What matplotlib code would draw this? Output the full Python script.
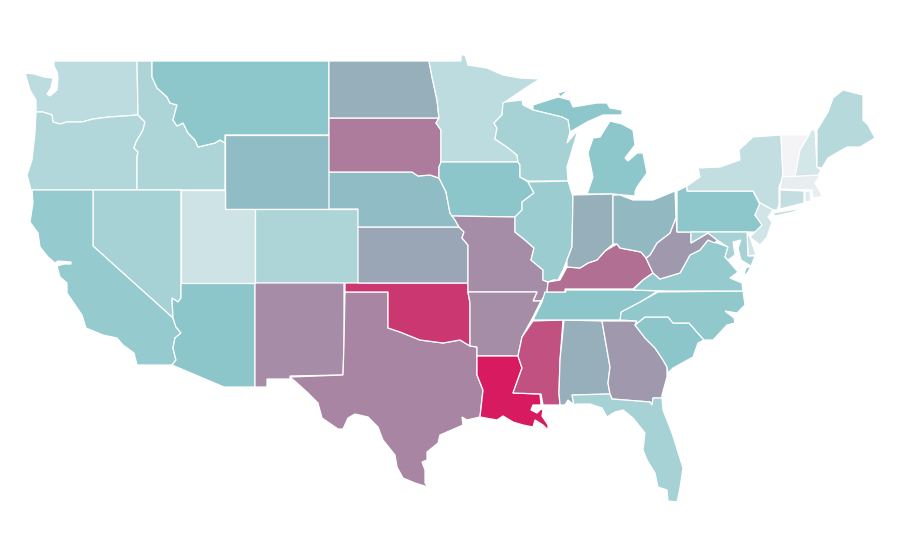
#!/usr/bin/env python3
"""US states choropleth, outlines read off the picture in pixel units"""
import matplotlib; matplotlib.use('Agg')
import matplotlib.pyplot as plt
from matplotlib.colors import LinearSegmentedColormap

# state outlines (x, y down), a state can have several parts
WA=[[(54,61),(137,61),(138,115),(109,117),(93,119),(82,122),(67,122),(60,124),(53,122),(52,115),(43,112),(36,112),(36,100),(30,90),(25,73),(34,74),(44,77),(53,78),(51,88),(47,94),(50,96),(57,90),(58,78),(57,72),(54,66)]]
OR=[[(36,112),(43,112),(52,115),(53,122),(60,124),(67,122),(82,122),(93,119),(109,117),(138,115),(145,122),(143,130),(136,142),(134,148),(138,152),(137,157),(137,190),(31,190),(27,175),(32,160),(35,133)]]
ID=[[(137,61),(152,61),(152,77),(157,88),(167,97),(170,103),(177,105),(173,120),(177,126),(183,123),(188,133),(195,140),(198,147),(215,143),(220,140),(225,143),(225,190),(137,190),(137,157),(138,152),(134,148),(136,142),(143,130),(145,122),(138,115)]]
MT=[[(152,61),(329,61),(329,135),(225,135),(225,143),(220,140),(215,143),(198,147),(195,140),(188,133),(183,123),(177,126),(173,120),(177,105),(170,103),(167,97),(157,88),(152,77)]]
WY=[[(225,135),(329,135),(329,209),(225,209)]]
NV=[[(93,190),(181,190),(181,298),(178,302),(172,298),(173,318),(93,246)]]
CA=[[(32,190),(93,190),(93,246),(173,318),(176,327),(181,333),(175,338),(173,348),(176,360),(172,365),(137,365),(134,353),(123,345),(117,338),(103,335),(86,328),(82,315),(67,293),(67,283),(60,277),(57,266),(64,264),(71,264),(71,262),(58,261),(55,263),(48,257),(40,247),(38,233),(30,222),(33,203)]]
AZ=[[(181,283),(255,283),(255,387),(224,387),(172,365),(176,360),(173,348),(175,338),(181,333),(176,327),(173,318),(172,298),(178,302),(181,298)]]
UT=[[(181,190),(225,190),(225,209),(255,209),(255,283),(181,283)]]
CO=[[(255,209),(358,209),(358,283),(255,283)]]
NM=[[(255,283),(344,283),(344,343),(343,375),(290,376),(290,379),(267,379),(267,387),(255,387)]]
TX=[[(345,292),(388,292),(388,328),(400,332),(420,340),(443,343),(460,340),(470,346),(477,347),(477,375),(483,390),(480,417),(467,420),(462,417),(463,425),(440,435),(438,443),(427,452),(427,460),(422,462),(425,470),(425,483),(428,487),(415,483),(403,478),(397,467),(395,455),(383,440),(378,427),(368,417),(355,414),(348,418),(343,429),(338,429),(322,418),(318,403),(308,393),(297,383),(290,377),(343,375),(344,343)]]
OK_=[[(345,283),(468,283),(468,292),(470,303),(470,346),(460,340),(443,343),(420,340),(400,332),(388,328),(388,292),(345,292)]]
KS=[[(358,227),(459,227),(464,232),(462,238),(468,245),(468,283),(358,283)]]
NE=[[(329,172),(412,172),(418,176),(430,175),(439,178),(446,192),(450,213),(455,220),(459,227),(358,227),(358,209),(329,209)]]
SD=[[(329,118),(439,118),(436,123),(441,130),(441,163),(439,167),(439,178),(430,175),(418,176),(412,172),(329,172)]]
ND=[[(329,61),(429,61),(432,77),(437,100),(439,118),(329,118)]]
MN=[[(429,61),(461,61),(461,55),(465,55),(468,65),(487,68),(503,75),(520,78),(540,79),(527,87),(505,102),(503,105),(502,115),(494,123),(497,128),(495,139),(507,147),(517,155),(518,162),(441,162),(441,130),(436,123),(439,118),(437,100),(432,77)]]
IA=[[(441,162),(518,162),(520,165),(520,177),(528,182),(534,193),(522,202),(522,210),(515,217),(452,216),(450,213),(446,192),(439,178),(439,167)]]
MO=[[(452,216),(515,217),(515,223),(515,232),(525,240),(534,248),(531,260),(543,270),(543,280),(548,282),(547,292),(541,301),(533,301),(537,292),(468,292),(468,245),(462,238),(464,232),(459,227),(455,220)]]
AR=[[(468,292),(537,292),(533,301),(541,301),(533,317),(522,337),(518,356),(477,356),(477,347),(470,346),(470,303)]]
LA=[[(477,356),(518,356),(522,368),(513,393),(540,394),(541,405),(533,405),(531,410),(537,413),(541,409),(543,410),(542,416),(548,425),(548,430),(543,425),(535,420),(533,427),(523,425),(513,422),(503,416),(497,420),(480,417),(483,390),(477,375)]]
MS=[[(533,321),(563,320),(560,360),(559,393),(560,405),(543,405),(541,394),(513,393),(522,368),(518,356),(522,337)]]
AL=[[(564,320),(602,321),(610,367),(608,383),(610,394),(572,395),(574,405),(568,400),(565,405),(560,405),(559,393),(560,360)]]
GA=[[(602,321),(637,321),(635,325),(645,338),(655,348),(663,360),(667,367),(667,377),(662,395),(662,398),(653,398),(652,405),(650,402),(612,399),(610,394),(608,383),(610,367)]]
FL=[[(572,395),(610,394),(612,399),(650,402),(652,405),(653,398),(662,398),(663,410),(672,433),(683,468),(680,488),(677,502),(668,501),(667,490),(658,487),(655,473),(647,460),(643,450),(645,433),(633,418),(623,410),(615,412),(607,417),(602,408),(590,404),(577,404),(574,405)]]
SC=[[(635,325),(645,317),(668,317),(673,323),(689,323),(704,340),(698,343),(693,357),(673,368),(668,373),(667,367),(663,360),(655,348),(645,338)]]
NC=[[(620,320),(621,312),(640,302),(658,292),(743,291),(745,305),(737,313),(725,311),(734,318),(735,323),(727,325),(713,340),(704,340),(689,323),(673,323),(668,317),(645,317),(635,325),(637,321)]]
TN=[[(565,290),(633,290),(658,291),(640,302),(621,312),(620,320),(533,320),(542,302),(545,292),(566,292)]]
KY=[[(548,282),(547,292),(565,292),(565,289),(633,289),(643,280),(653,273),(646,258),(641,252),(620,248),(617,244),(605,251),(597,260),(588,263),(580,268),(567,267),(560,280)]]
VA=[[(633,290),(667,291),(743,291),(742,283),(730,278),(738,272),(725,257),(728,247),(717,243),(708,240),(700,250),(690,255),(680,273),(660,279),(653,273),(643,280)],
    [(751,266),(748,272),(743,277),(746,268)]]
WV=[[(676,217),(677,232),(691,232),(691,243),(708,233),(717,240),(715,243),(708,240),(700,250),(690,255),(680,273),(660,279),(653,273),(646,258),(650,255),(657,243),(670,233),(675,220)]]
PA=[[(677,191),(687,186),(687,191),(753,191),(760,205),(755,215),(763,225),(757,232),(677,232)]]
NY=[[(687,191),(687,186),(700,177),(698,168),(720,167),(740,160),(739,150),(753,137),(781,135),(783,177),(779,187),(779,205),(777,210),(773,210),(760,203),(753,191)],
    [(773,213),(802,208),(793,212),(775,216)]]
VT=[[(781,135),(809,135),(800,150),(795,177),(783,177)]]
NH=[[(811,130),(815,130),(817,167),(821,170),(817,177),(795,177),(800,150),(809,135)]]
ME=[[(817,130),(828,112),(833,98),(843,90),(863,95),(863,120),(868,125),(875,138),(860,147),(847,147),(828,158),(822,168),(817,167)]]
MA=[[(782,177),(820,175),(815,183),(822,195),(830,195),(813,198),(812,190),(780,189)]]
CT=[[(780,190),(804,191),(804,203),(780,209)]]
RI=[[(805,191),(810,191),(811,201),(805,202)]]
NJ=[[(760,203),(773,210),(768,217),(772,222),(767,237),(760,245),(750,237),(762,225),(755,215)]]
DE=[[(747,232),(750,237),(756,255),(748,256)]]
MD=[[(691,232),(747,232),(748,256),(755,256),(751,266),(741,260),(738,248),(741,240),(733,242),(735,255),(728,260),(725,257),(728,247),(717,240),(708,233),(691,243)]]
MI=[[(587,194),(593,177),(588,153),(593,138),(600,137),(610,121),(622,124),(633,130),(635,145),(625,158),(628,161),(637,153),(643,153),(647,173),(637,187),(635,192),(635,196),(613,194)],
    [(533,105),(558,97),(570,100),(573,107),(597,103),(607,103),(610,108),(622,110),(622,115),(603,115),(587,122),(570,132),(568,120),(562,117),(533,110)],
    [(558,93),(569,90),(560,97)]]
WI=[[(503,103),(505,102),(522,100),(523,105),(533,110),(562,117),(568,120),(570,132),(567,143),(578,130),(570,157),(567,167),(568,181),(528,181),(520,177),(520,165),(518,162),(517,155),(507,147),(495,139),(497,128),(494,123),(502,115)]]
IL=[[(528,182),(568,181),(573,197),(572,247),(567,260),(563,270),(558,280),(553,280),(548,282),(543,280),(543,270),(531,260),(534,248),(525,240),(515,232),(515,223),(515,217),(522,210),(522,202),(534,193)]]
IN=[[(573,195),(613,194),(613,244),(605,251),(597,260),(588,263),(580,268),(567,267),(567,260),(572,247)]]
OH=[[(613,195),(620,195),(633,200),(653,200),(675,191),(676,217),(675,220),(670,233),(657,243),(650,255),(646,258),(641,252),(620,248),(617,244),(613,244)]]

state_names=['WA','OR','ID','MT','WY','NV','CA','AZ','UT','CO','NM','TX','OK','KS','NE','SD','ND','MN','IA','MO','AR','LA','MS','AL','GA','FL','SC','NC','TN','KY','VA','WV','PA','NY','VT','NH','ME','MA','CT','RI','NJ','DE','MD','MI','WI','IL','IN','OH']
state_shapes=[WA,OR,ID,MT,WY,NV,CA,AZ,UT,CO,NM,TX,OK_,KS,NE,SD,ND,MN,IA,MO,AR,LA,MS,AL,GA,FL,SC,NC,TN,KY,VA,WV,PA,NY,VT,NH,ME,MA,CT,RI,NJ,DE,MD,MI,WI,IL,IN,OH]
state_values=[.265,.32,.34,.49,.526,.375,.46,.5,.19,.34,.67,.684,.915,.59,.526,.717,.57,.265,.5,.665,.665,1.0,.84,.57,.63,.375,.5,.48,.5,.75,.46,.63,.49,.235,0.0,.16,.30,.07,.235,.10,.17,.17,.375,.49,.375,.43,.57,.54]

cmap=LinearSegmentedColormap.from_list('teal_pink',[(0,'#f4f4f6'),(.5,'#8cc6ca'),(1,'#d81b60')])

fig=plt.figure(figsize=(9,5.6),dpi=100)
ax=fig.add_axes([0,0,1,1])
for name,shape,v in zip(state_names,state_shapes,state_values):
    for part in shape:
        xs,ys=zip(*part)
        ax.fill(xs,ys,facecolor=cmap(float(v)),edgecolor='white',linewidth=0.9,label=name)
ax.set_xlim(0,900); ax.set_ylim(560,0)
ax.axis('off')
fig.savefig('out.png',dpi=100,facecolor='white')
